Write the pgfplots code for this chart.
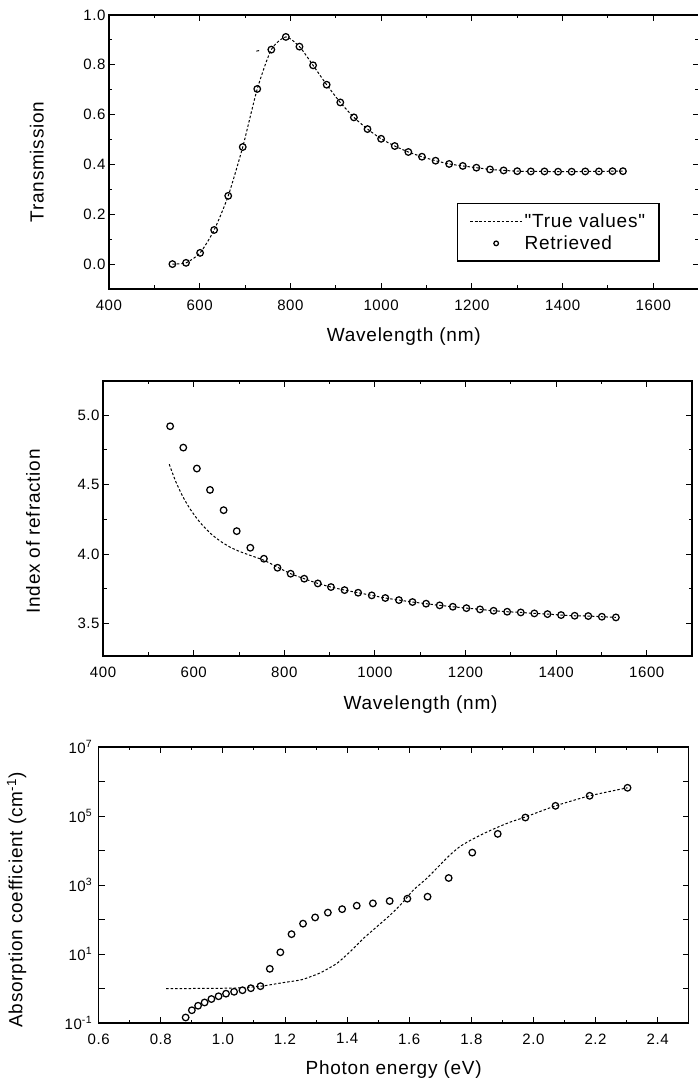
\documentclass[border=0pt]{standalone}
\usepackage{fontspec}
\setmainfont{Liberation Sans}[Ligatures=TeXOff, LetterSpace=4.0]
\usepackage{pgfplots}
\usepackage{pgfplotstable}
\pgfplotsset{compat=1.18}

\pgfplotstableread{
x y
540 0.000
570 0.005
601 0.045
632 0.137
663 0.274
695 0.470
727 0.703
758 0.861
790 0.912
820 0.873
850 0.798
880 0.720
910 0.649
940 0.589
970 0.542
1000 0.503
1030 0.474
1060 0.450
1090 0.431
1120 0.415
1150 0.402
1180 0.394
1210 0.387
1240 0.380
1270 0.376
1300 0.373
1330 0.372
1360 0.372
1390 0.371
1420 0.371
1450 0.372
1480 0.372
1510 0.373
1533 0.373
}\transret

\pgfplotstableread{
x y
548 4.921
577 4.767
607 4.616
636 4.462
666 4.316
695 4.165
725 4.045
755 3.966
785 3.901
814 3.858
844 3.822
874 3.788
903 3.762
933 3.740
963 3.721
993 3.702
1023 3.683
1053 3.668
1083 3.654
1113 3.642
1143 3.630
1172 3.620
1202 3.610
1232 3.601
1262 3.591
1292 3.584
1322 3.579
1352 3.572
1381 3.567
1411 3.560
1441 3.555
1471 3.553
1501 3.548
1532 3.543
}\nret

\pgfplotstableread{
x y
546 4.647
560 4.525
575 4.420
590 4.335
605 4.265
620 4.205
640 4.140
660 4.090
680 4.050
700 4.020
725 3.990
755 3.955
785 3.905
814 3.858
844 3.822
874 3.788
903 3.762
933 3.740
963 3.721
993 3.702
1023 3.683
1053 3.668
1083 3.654
1113 3.642
1143 3.630
1172 3.620
1202 3.610
1232 3.601
1262 3.591
1292 3.584
1322 3.579
1352 3.572
1381 3.567
1411 3.560
1441 3.555
1471 3.553
1501 3.548
1532 3.543
}\ntrue

\pgfplotstableread{
x y
0.880 0.1445
0.900 0.2344
0.920 0.3162
0.941 0.3936
0.963 0.4955
0.986 0.5957
1.010 0.7079
1.036 0.8035
1.063 0.8913
1.090 1.019
1.121 1.167
1.151 3.715
1.185 11.22
1.221 37.58
1.258 75.86
1.297 114.8
1.338 158.5
1.384 199.5
1.431 251.2
1.483 293.1
1.537 342.8
1.594 400.9
1.659 458.1
1.727 1596
1.803 8690
1.885 30340
1.974 90360
2.071 197200
2.181 385500
2.303 657700
}\absret

\pgfplotstableread{
x y
0.817 1.00
0.900 1.00
0.980 1.01
1.050 1.04
1.121 1.16
1.194 1.48
1.254 1.80
1.312 2.80
1.366 5.25
1.409 11.5
1.452 28.0
1.495 61.0
1.538 133
1.576 292
1.613 708
1.656 1549
1.699 3802
1.731 7413
1.763 13000
1.796 19500
1.838 30500
1.881 45710
1.924 66070
1.972 92260
2.071 197200
2.181 385500
2.303 657700
}\abstrue

\tikzset{lblfont/.style={font=\fontsize{19}{23}\selectfont}}

\begin{document}
\begin{tikzpicture}
\useasboundingbox (0pt,0pt) rectangle (697pt,1085pt);
\pgfplotsset{
  common/.style={
    scale only axis, anchor=south west,
    axis line style={line width=1.5pt},
    every tick/.style={line width=1pt, black},
    major tick length=6pt, minor tick length=3.5pt,
    tick align=inside,
    tick label style={font=\fontsize{15}{18}\selectfont},
    /pgf/number format/assume math mode=true,
    /pgf/number format/1000 sep={},
    xticklabel style={yshift=-7pt},
  },
  fix1/.style={/pgf/number format/.cd, fixed, fixed zerofill, precision=1},
  truestyle/.style={black, line width=1pt, dash pattern=on 2.5pt off 2pt, smooth, tension=0.4, mark=none},
  retstyle/.style={black, only marks, mark=o, mark size=3.3pt, mark options={line width=1.25pt}},
}

% ---------- top ----------
\begin{axis}[common, at={(108.9pt,796pt)}, width=589.8pt, height=274pt,
  xmin=400, xmax=1700, ymin=-0.1, ymax=1.0,
  xtick={400,600,...,1600}, minor xtick={500,700,...,1700},
  ytick={0,0.2,0.4,0.6,0.8,1.0}, minor ytick={-0.1,0.1,0.3,0.5,0.7,0.9},
  yticklabel style={fix1},
  xlabel={Wavelength (nm)}, ylabel={Transmission},
  every axis x label/.style={lblfont, at={(rel axis cs:0.5,0)}, yshift=-48pt, anchor=center},
  every axis y label/.style={lblfont, at={(rel axis cs:0,0.5)}, xshift=-72pt, yshift=-10pt, rotate=90, anchor=center},
  legend image code/.code={\draw[mark repeat=2,mark phase=2,#1,mark size=2.3pt] plot coordinates {(0pt,0pt) (26pt,0pt) (52pt,0pt)};},
  legend style={at={(0.934,0.0996)}, anchor=south east, draw=black, line width=1.4pt,
    font=\fontsize{19}{23}\selectfont, inner xsep=12pt, inner ysep=8pt, row sep=3pt,
    /tikz/every even column/.append style={column sep=5pt}},
  legend cell align=left,
]
\addplot[truestyle] table[x=x,y=y] {\transret};
\addlegendentry{"True values"}
\addplot[retstyle] table[x=x,y=y] {\transret};
\addlegendentry{Retrieved}
\addplot[black, line width=1pt, forget plot] coordinates {(725,0.855) (731,0.857)};
\end{axis}

% ---------- middle ----------
\begin{axis}[common, at={(103.1pt,429pt)}, width=588.9pt, height=275pt,
  xmin=400, xmax=1700, ymin=3.265, ymax=5.247,
  xtick={400,600,...,1600}, minor xtick={500,700,...,1700},
  ytick={3.5,4.0,4.5,5.0}, minor ytick={3.75,4.25,4.75},
  yticklabel style={fix1},
  xlabel={Wavelength (nm)}, ylabel={Index of refraction},
  every axis x label/.style={lblfont, at={(rel axis cs:0.5,0)}, xshift=23pt, yshift=-49pt, anchor=center},
  every axis y label/.style={lblfont, at={(rel axis cs:0,0.5)}, xshift=-70pt, yshift=-13pt, rotate=90, anchor=center},
]
\addplot[truestyle] table[x=x,y=y] {\ntrue};
\addplot[retstyle] table[x=x,y=y] {\nret};
\end{axis}

% ---------- bottom ----------
\begin{axis}[common, at={(98.7pt,62pt)}, width=590pt, height=276pt,
  xmin=0.6, xmax=2.5, ymode=log, log basis y=10, ymin=0.1, ymax=1e7,
  xtick={0.6,0.8,1.0,1.2,1.4,1.6,1.8,2.0,2.2,2.4},
  minor xtick={0.7,0.9,1.1,1.3,1.5,1.7,1.9,2.1,2.3,2.5},
  xticklabel style={fix1},
  ytick={0.1,1,10,100,1000,1e4,1e5,1e6,1e7}, yminorticks=false,
  yticklabels={10\textsuperscript{-1},,10\textsuperscript{1},,10\textsuperscript{3},,10\textsuperscript{5},,10\textsuperscript{7}},
  yticklabel style={xshift=-3pt},
  xlabel={Photon energy (eV)}, ylabel={Absorption coefficient (cm\textsuperscript{-1})},
  every axis x label/.style={lblfont, at={(rel axis cs:0.5,0)}, yshift=-47pt, anchor=center},
  every axis y label/.style={lblfont, at={(rel axis cs:0,0.5)}, xshift=-82pt, yshift=-15pt, rotate=90, anchor=center},
]
\addplot[truestyle, tension=0.3] table[x=x,y=y] {\abstrue};
\addplot[retstyle] table[x=x,y=y] {\absret};
\end{axis}
\end{tikzpicture}
\end{document}
